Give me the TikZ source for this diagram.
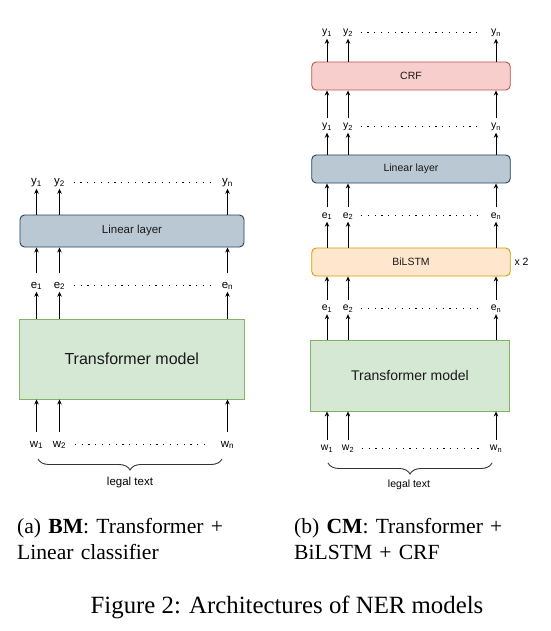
\documentclass[tikz,border=0pt]{standalone}
\usepackage{fontspec}
\setmainfont{Liberation Serif}
\newfontfamily\dsans{Liberation Sans}
\usetikzlibrary{arrows.meta,decorations.pathreplacing}
\definecolor{linf}{HTML}{BAC8D3}
\definecolor{lind}{HTML}{23445D}
\definecolor{crff}{HTML}{F8CECC}
\definecolor{crfd}{HTML}{B85450}
\definecolor{lstf}{HTML}{FFE6CC}
\definecolor{lstd}{HTML}{D79B00}
\definecolor{trf}{HTML}{D5E8D4}
\definecolor{trd}{HTML}{82B366}
\begin{document}
\begin{tikzpicture}[x=1pt,y=-1pt,
  arr/.style={-{Stealth[length=5pt,width=4.5pt]}, line width=0.9pt, black},
  lblL/.style={font=\dsans\fontsize{11.5}{13}\selectfont, inner sep=0.5pt, text height=14pt, text depth=3pt, anchor=base},
  lblR/.style={font=\dsans\fontsize{10.5}{12}\selectfont, inner sep=0.5pt, text height=10pt, text depth=3pt, anchor=base},
  dotrow/.style={line width=1.1pt, dash pattern=on 1.2pt off 5.6pt},
  rbox/.style={draw, line width=0.9pt, rounded corners=4.5pt, inner sep=0pt, text=black!90},
  tbox/.style={draw=trd, fill=trf, line width=0.9pt, inner sep=0pt, text=black!90},
  brc/.style={decorate, decoration={brace, mirror, amplitude=11pt}, line width=0.9pt, black!80},
  captext/.style={font=\fontsize{21.6}{26}\selectfont, inner sep=0pt, anchor=base west, align=left}
]
\useasboundingbox (0,0) rectangle (550,631);

% ---------------- left diagram ----------------
\node[rbox, fill=linf, draw=lind, minimum width=224pt, minimum height=32pt,
      font=\dsans\fontsize{11.5}{13}\selectfont] (linL) at (132,231) {Linear layer};
\node[tbox, minimum width=224.5pt, minimum height=80pt,
      font=\dsans\fontsize{16}{18}\selectfont] (trL) at (131.8,359) {Transformer model};

\node[lblL] (ya1) at (36.5,185) {y\textsubscript{1}};
\node[lblL] (ya2) at (59.5,185) {y\textsubscript{2}};
\node[lblL] (yan) at (227.5,185) {y\textsubscript{n}};
\node[lblL] (ea1) at (36.5,288) {e\textsubscript{1}};
\node[lblL] (ea2) at (59.5,288) {e\textsubscript{2}};
\node[lblL] (ean) at (227.5,288) {e\textsubscript{n}};
\node[lblL] (wa1) at (36.5,447) {w\textsubscript{1}};
\node[lblL] (wa2) at (59.5,447) {w\textsubscript{2}};
\node[lblL] (wan) at (227.5,447) {w\textsubscript{n}};

\foreach \s in {1,2,n}{
  \draw[arr] (linL.north -| ya\s.south) -- (ya\s.south);
  \draw[arr] (ea\s.north) -- (ea\s.north |- linL.south);
  \draw[arr] (trL.north -| ea\s.south) -- (ea\s.south);
  \draw[arr] (wa\s.north) -- (wa\s.north |- trL.south);
}
\draw[dotrow] ([xshift=8pt,yshift=2.5pt]ya2.base east) -- ([xshift=-10pt,yshift=2.5pt]yan.base west);
\draw[dotrow] ([xshift=8pt,yshift=2.5pt]ea2.base east) -- ([xshift=-10pt,yshift=2.5pt]ean.base west);
\draw[dotrow] ([xshift=8pt,yshift=2.5pt]wa2.base east) -- ([xshift=-10pt,yshift=2.5pt]wan.base west);

\draw[brc] (38,459) -- (222,459);
\node[font=\dsans\fontsize{11.5}{13}\selectfont, inner sep=0pt] (ltL) at (130,483) {legal text};

% ---------------- right diagram ----------------
\node[rbox, fill=crff, draw=crfd, minimum width=198.5pt, minimum height=28pt,
      font=\dsans\fontsize{10.5}{12}\selectfont] (crf) at (411,76) {CRF};
\node[rbox, fill=linf, draw=lind, minimum width=198.5pt, minimum height=28pt,
      font=\dsans\fontsize{10.5}{12}\selectfont] (linR) at (411,169) {Linear layer};
\node[rbox, fill=lstf, draw=lstd, minimum width=198.5pt, minimum height=28pt,
      font=\dsans\fontsize{10.5}{12}\selectfont] (lstm) at (411,262) {BiLSTM};
\node[font=\dsans\fontsize{10.5}{12}\selectfont, inner sep=0pt] (x2) at (521.5,262) {x 2};
\node[tbox, minimum width=198.5pt, minimum height=71pt,
      font=\dsans\fontsize{14}{16}\selectfont] (trR) at (410,375.5) {Transformer model};

\node[lblR] (yb1) at (327,35) {y\textsubscript{1}};
\node[lblR] (yb2) at (348,35) {y\textsubscript{2}};
\node[lblR] (ybn) at (496,35) {y\textsubscript{n}};
\node[lblR] (yc1) at (327,129) {y\textsubscript{1}};
\node[lblR] (yc2) at (348,129) {y\textsubscript{2}};
\node[lblR] (ycn) at (496,129) {y\textsubscript{n}};
\node[lblR] (eb1) at (327,218) {e\textsubscript{1}};
\node[lblR] (eb2) at (348,218) {e\textsubscript{2}};
\node[lblR] (ebn) at (496,218) {e\textsubscript{n}};
\node[lblR] (ec1) at (327,310.5) {e\textsubscript{1}};
\node[lblR] (ec2) at (348,310.5) {e\textsubscript{2}};
\node[lblR] (ecn) at (496,310.5) {e\textsubscript{n}};
\node[lblR] (wb1) at (327,450.5) {w\textsubscript{1}};
\node[lblR] (wb2) at (348,450.5) {w\textsubscript{2}};
\node[lblR] (wbn) at (496,450.5) {w\textsubscript{n}};

\foreach \s in {1,2,n}{
  \draw[arr] (crf.north -| yb\s.south) -- (yb\s.south);
  \draw[arr] (yc\s.north) -- (yc\s.north |- crf.south);
  \draw[arr] (linR.north -| yc\s.south) -- (yc\s.south);
  \draw[arr] (eb\s.north) -- (eb\s.north |- linR.south);
  \draw[arr] (lstm.north -| eb\s.south) -- (eb\s.south);
  \draw[arr] (ec\s.north) -- (ec\s.north |- lstm.south);
  \draw[arr] (trR.north -| ec\s.south) -- (ec\s.south);
  \draw[arr] (wb\s.north) -- (wb\s.north |- trR.south);
}
\foreach \r in {yb,yc,eb,ec,wb}{
  \draw[dotrow] ([xshift=7pt,yshift=2.3pt]\r2.base east) -- ([xshift=-10pt,yshift=2.3pt]\r n.base west);
}

\draw[brc] (328,463) -- (492,463);
\node[font=\dsans\fontsize{10.5}{12}\selectfont, inner sep=0pt] (ltR) at (409,485) {legal text};

% ---------------- captions ----------------
\node[captext, text width=219pt] (capa) at (17,533.3)
  {\makebox[219pt][s]{(a) \textbf{BM}: Transformer +}\\Linear classifier};
\node[captext, text width=218pt] (capb) at (294,533.3)
  {\makebox[218pt][s]{(b) \textbf{CM}: Transformer +}\\BiLSTM + CRF};
\node[font=\fontsize{24.8}{28}\selectfont, inner sep=0pt, anchor=base] (fig) at (287,613.3)
  {Figure 2: Architectures of NER models};
\end{tikzpicture}
\end{document}
